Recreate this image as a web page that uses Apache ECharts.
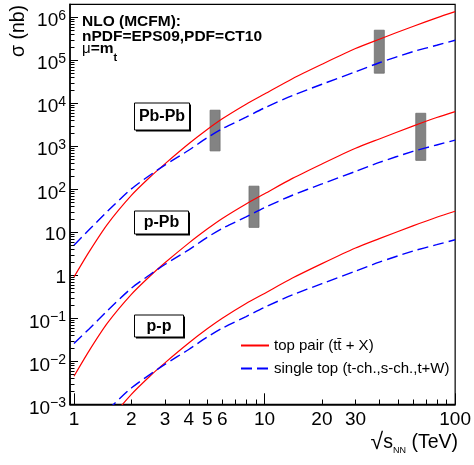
<!DOCTYPE html>
<html><head><meta charset="utf-8">
<script src="https://cdn.jsdelivr.net/npm/echarts@6/dist/echarts.min.js"></script>
<style>html,body{margin:0;padding:0;background:#fff}#c{width:474px;height:465px}</style>
</head><body><div id="c"></div>
<script>
// ---------------- data ----------------
const energies = [1, 1.2, 1.5, 2, 2.5, 3, 4, 5, 6, 8, 10, 14, 20, 30, 40, 60, 80, 100];
const pbpbTopPair   = [0.91, 3.5, 15.5, 72, 190, 390, 1140, 2450, 4350, 9500, 16400, 37300, 80700, 187000, 308000, 611000, 970000, 1350000];
const pbpbSingleTop = [5.0, 11.4, 30.8, 102, 212, 365, 807, 1580, 2550, 4750, 7820, 15100, 27700, 54000, 87500, 158000, 223000, 292000];
const ppbTopPair    = [0.0045, 0.0175, 0.078, 0.36, 0.95, 1.95, 5.6, 11.9, 21.0, 45.7, 78.8, 179, 388, 899, 1480, 2940, 4660, 6400];
const ppbSingleTop  = [0.026, 0.0565, 0.152, 0.50, 1.03, 1.78, 3.9, 7.6, 12.3, 22.8, 37.6, 72.6, 133, 260, 421, 760, 1072, 1390];
const ppTopPair     = [0.000021, 0.000083, 0.00037, 0.0017, 0.0045, 0.0092, 0.0266, 0.0568, 0.1, 0.22, 0.379, 0.862, 1.87, 4.32, 7.12, 14.1, 22.4, 30.8];
const ppSingleTop   = [0.000118, 0.00027, 0.00073, 0.0024, 0.0049, 0.0085, 0.0188, 0.0366, 0.059, 0.11, 0.181, 0.349, 0.64, 1.25, 2.02, 3.65, 5.15, 6.7];
// uncertainty bands: [energy, low, high]
const bandEnergies = [5.5, 8.8, 40, 66];
const bandLow      = [780, 13, 50000, 470];
const bandHigh     = [6900, 118, 500000, 5850];

const seriesNames = ['top pair (tt\u0304 + X)', 'single top (t-ch.,s-ch.,t+W)'];
const xTickLabelValues = [1, 2, 3, 4, 5, 6, 10, 20, 30, 100];
const xMajorTicks = [1, 10, 100];
const yTickValues = [0.001, 0.01, 0.1, 1, 10, 100, 1000, 10000, 100000, 1000000];
const yTickLabels = ['{b|10}{s|\u22123}', '{b|10}{s|\u22122}', '{b|10}{s|\u22121}', '{c|1}', '{c|10}',
                     '{b|10}{s|2}', '{b|10}{s|3}', '{b|10}{s|4}', '{b|10}{s|5}', '{b|10}{s|6}'];
const minorMultipliers = [2, 3, 4, 5, 6, 7, 8, 9];
const xDecades = [1, 10];
const yDecades = [0.001, 0.01, 0.1, 1, 10, 100, 1000, 10000, 100000, 1000000];

// ---------------- layout ----------------
const X_MIN = 0.953, X_MAX = 100, Y_MIN = 0.001, Y_MAX = 2e6;
const FONT = '"Liberation Sans", Arial, sans-serif';

const xMinor = [];
xDecades.forEach(d => minorMultipliers.forEach(m => xMinor.push(d * m)));
const yMinor = [];
yDecades.forEach(d => minorMultipliers.forEach(m => { const v = d * m; if (v <= Y_MAX) yMinor.push(v); }));
const xExtraLabels = xTickLabelValues.filter(v => xMajorTicks.indexOf(v) < 0);

function sameLog(a, b) { return Math.abs(Math.log10(a) - Math.log10(b)) < 1e-6; }

function curve(name, ys, color, dashed) {
  return {
    type: 'line', name: name, data: energies.map((x, i) => [x, ys[i]]),
    symbol: 'none', smooth: 0.25, clip: true, silent: true, z: 4,
    lineStyle: { color: color, width: dashed ? 1.4 : 1.2, type: dashed ? [11, 5] : 'solid' },
    itemStyle: { color: color }
  };
}
function tickSeries(values, axis, len) {
  return {
    type: 'custom', silent: true, z: 6, clip: false,
    data: values.map(v => axis === 'x' ? [v, Y_MIN] : [X_MIN, v]),
    renderItem: function (params, api) {
      const p = api.coord([api.value(0), api.value(1)]);
      const px = Math.round(p[0]) + 0.5, py = Math.round(p[1]) + 0.5;
      const shape = axis === 'x' ? { x1: px, y1: py, x2: px, y2: py - len } : { x1: px, y1: py, x2: px + len, y2: py };
      return { type: 'line', shape: shape, style: { stroke: '#000', lineWidth: 1 } };
    }
  };
}

const chart = echarts.init(document.getElementById('c'), null, { renderer: 'canvas' });
const option = {
  animation: false,
  backgroundColor: '#fff',
  grid: { left: 70, right: 16.5, top: 4.3, bottom: 60.7, show: true, borderColor: '#000', borderWidth: 1.2, backgroundColor: 'transparent' },
  xAxis: {
    type: 'log', logBase: 10, min: X_MIN, max: X_MAX,
    axisLine: { show: true, lineStyle: { color: '#000', width: 1.5 } },
    axisTick: { show: true, inside: true, length: 11, lineStyle: { color: '#000', width: 1 } },
    minorTick: { show: false }, splitLine: { show: false },
    axisLabel: {
      margin: 6, color: '#000', fontFamily: FONT, fontSize: 19,
      formatter: function (v) { return xMajorTicks.some(t => sameLog(t, v)) ? String(Math.round(v)) : ''; }
    }
  },
  yAxis: {
    type: 'log', logBase: 10, min: Y_MIN, max: Y_MAX,
    axisLine: { show: true, lineStyle: { color: '#000', width: 1.5 } },
    axisTick: { show: true, inside: true, length: 8, lineStyle: { color: '#000', width: 1 } },
    minorTick: { show: false }, splitLine: { show: false },
    axisLabel: {
      margin: 4, color: '#000', fontFamily: FONT, padding: [5, 0, 0, 0],
      formatter: function (v) {
        for (let i = 0; i < yTickValues.length; i++) if (sameLog(yTickValues[i], v)) return yTickLabels[i];
        return '';
      },
      rich: {
        b: { fontFamily: FONT, fontSize: 19, lineHeight: 22, verticalAlign: 'bottom', color: '#000' },
        s: { fontFamily: FONT, fontSize: 14, lineHeight: 22, verticalAlign: 'top', color: '#000' },
        c: { fontFamily: FONT, fontSize: 19, lineHeight: 22, verticalAlign: 'middle', color: '#000' }
      }
    }
  },
  legend: {
    orient: 'vertical', left: 240, top: 338, padding: 0, itemWidth: 28, itemHeight: 16, itemGap: 8,
    data: seriesNames, selectedMode: false,
    itemStyle: { opacity: 0, color: 'transparent', borderWidth: 0 },
    textStyle: { fontFamily: FONT, fontSize: 15, color: '#000' }
  },
  series: [
    {
      type: 'custom', silent: true, z: 2,
      data: bandEnergies.map((e, i) => [e, bandLow[i], bandHigh[i]]),
      renderItem: function (params, api) {
        const a = api.coord([api.value(0), api.value(1)]);
        const b = api.coord([api.value(0), api.value(2)]);
        return { type: 'rect', shape: { x: a[0] - 5, y: b[1], width: 10, height: a[1] - b[1] },
                 style: { fill: '#838383', stroke: '#6e6e6e', lineWidth: 0.8 } };
      }
    },
    curve(seriesNames[0], pbpbTopPair, '#ff0000', false),
    curve(seriesNames[1], pbpbSingleTop, '#0000ff', true),
    curve(seriesNames[0], ppbTopPair, '#ff0000', false),
    curve(seriesNames[1], ppbSingleTop, '#0000ff', true),
    curve(seriesNames[0], ppTopPair, '#ff0000', false),
    curve(seriesNames[1], ppSingleTop, '#0000ff', true),
    tickSeries(xMinor, 'x', 5),
    tickSeries(yMinor, 'y', 4),
    {
      type: 'custom', silent: true, z: 6, clip: false,
      data: xExtraLabels.map(v => [v, Y_MIN]),
      renderItem: function (params, api) {
        const p = api.coord([api.value(0), api.value(1)]);
        return { type: 'text', x: p[0], y: p[1] + 6,
                 style: { text: String(api.value(0)), font: '19px ' + FONT, fill: '#000', align: 'center', verticalAlign: 'top' } };
      }
    }
  ],
  graphic: [
    { type: 'text', x: 82, y: 21.7, style: { text: 'NLO (MCFM):', font: 'bold 15.5px ' + FONT, fill: '#000', verticalAlign: 'middle' } },
    { type: 'text', x: 82, y: 36.7, style: { text: 'nPDF=EPS09,PDF=CT10', font: 'bold 15.5px ' + FONT, fill: '#000', verticalAlign: 'middle' } },
    { type: 'text', x: 82, y: 52, style: {
        text: '{g|\u03bc}{b|=m}{u|t}', verticalAlign: 'middle',
        rich: {
          g: { fontFamily: FONT, fontSize: 15, lineHeight: 22, verticalAlign: 'top', fill: '#000' },
          b: { fontFamily: FONT, fontSize: 15.5, fontWeight: 'bold', lineHeight: 22, verticalAlign: 'top', fill: '#000' },
          u: { fontFamily: FONT, fontSize: 11, fontWeight: 'bold', lineHeight: 22, verticalAlign: 'bottom', fill: '#000' }
        } } },
    // system labels
    { type: 'rect', shape: { x: 136, y: 104.5, width: 55, height: 27 }, style: { fill: '#000' } },
    { type: 'rect', shape: { x: 134.5, y: 103, width: 55, height: 27 }, style: { fill: '#fff', stroke: '#000', lineWidth: 1 } },
    { type: 'text', x: 162, y: 117, style: { text: 'Pb-Pb', font: 'bold 16px ' + FONT, fill: '#000', align: 'center', verticalAlign: 'middle' } },
    { type: 'rect', shape: { x: 136, y: 212.5, width: 54, height: 23 }, style: { fill: '#000' } },
    { type: 'rect', shape: { x: 134.5, y: 211, width: 54, height: 23 }, style: { fill: '#fff', stroke: '#000', lineWidth: 1 } },
    { type: 'text', x: 161.5, y: 223, style: { text: 'p-Pb', font: 'bold 16px ' + FONT, fill: '#000', align: 'center', verticalAlign: 'middle' } },
    { type: 'rect', shape: { x: 136, y: 316.5, width: 49, height: 22 }, style: { fill: '#000' } },
    { type: 'rect', shape: { x: 134.5, y: 315, width: 49, height: 22 }, style: { fill: '#fff', stroke: '#000', lineWidth: 1 } },
    { type: 'text', x: 159, y: 326.5, style: { text: 'p-p', font: 'bold 16px ' + FONT, fill: '#000', align: 'center', verticalAlign: 'middle' } },
    // axis titles
    { type: 'text', x: 19, y: 31, rotation: Math.PI / 2, style: { text: '\u03c3 (nb)', font: '19.5px ' + FONT, fill: '#000', align: 'center', verticalAlign: 'middle' } },
    { type: 'text', x: 458, y: 443, style: {
        text: '{q|\u221a}{r|s}{n|NN}{r| (TeV)}', align: 'right', verticalAlign: 'middle',
        rich: {
          q: { fontFamily: FONT, fontSize: 23, lineHeight: 24, verticalAlign: 'middle', fill: '#000' },
          r: { fontFamily: FONT, fontSize: 19.5, lineHeight: 24, verticalAlign: 'middle', fill: '#000' },
          n: { fontFamily: FONT, fontSize: 9, lineHeight: 24, verticalAlign: 'bottom', fill: '#000' }
        } } }
  ]
};
chart.setOption(option);
</script></body></html>
